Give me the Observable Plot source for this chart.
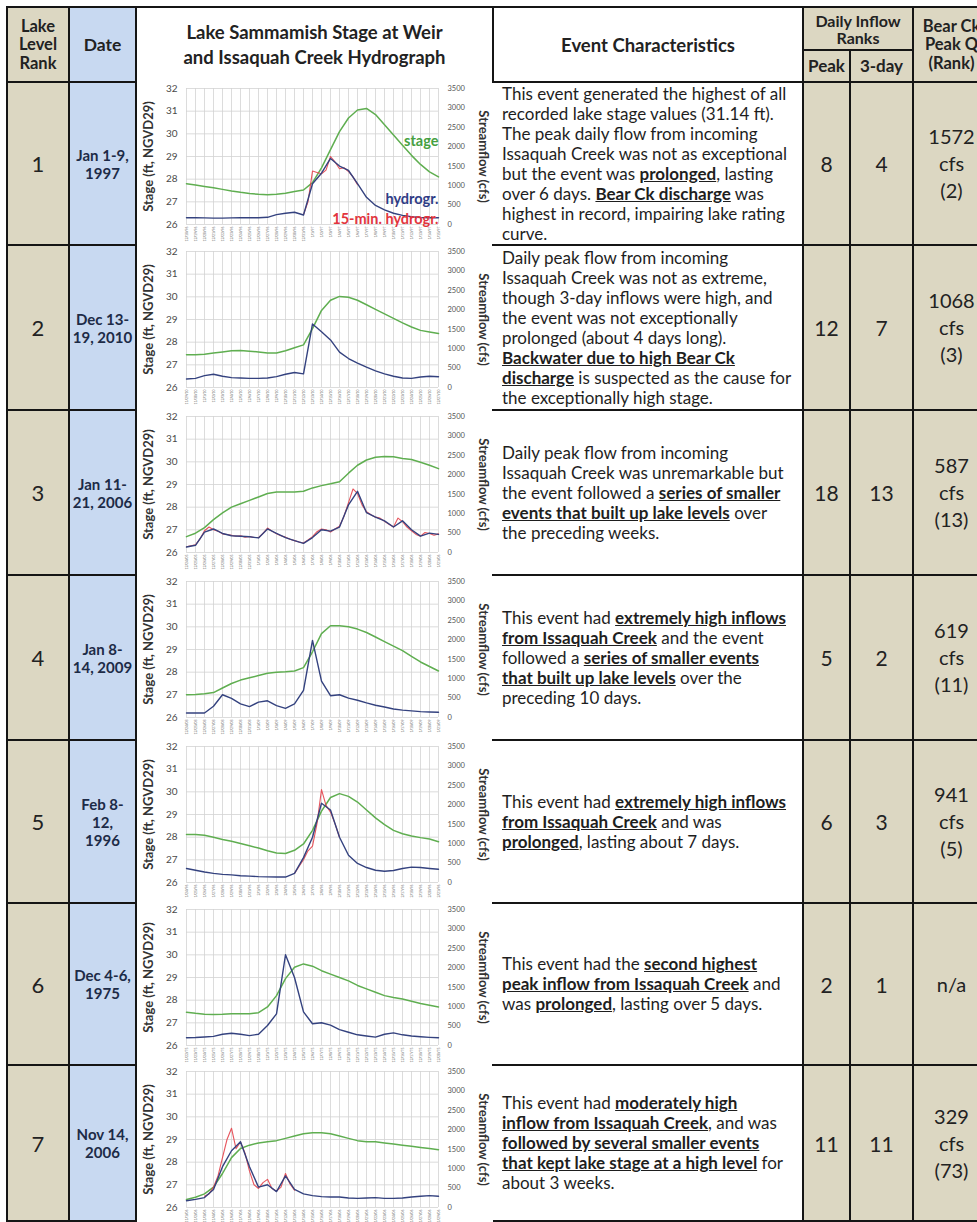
<!DOCTYPE html>
<html><head><meta charset="utf-8">
<script src="https://cdn.jsdelivr.net/npm/d3@7"></script>
<script src="https://cdn.jsdelivr.net/npm/@observablehq/plot@0.6"></script>
<style>
html,body{margin:0;padding:0;background:#fff;overflow:hidden;width:977px;height:1222px;}
body{font-family:Lato,"Open Sans",sans-serif;color:#1b1b1b;position:relative;}
.cell{position:absolute;box-sizing:border-box;display:flex;align-items:center;justify-content:center;text-align:center;white-space:nowrap;}
.ln{position:absolute;background:#151515;}
.ev{justify-content:flex-start;text-align:left;padding-left:9px;font-size:17px;line-height:20px;white-space:nowrap;color:#1e1e1e;}
.ev b{text-decoration:underline;}
svg{display:block;}
</style></head><body>
<script>
// ---------- data ----------
const rankLabels = ["1","2","3","4","5","6","7"];
const dateLabels = [["Jan 1-9,","1997"],["Dec 13-","19, 2010"],["Jan 11-","21, 2006"],["Jan 8-","14, 2009"],["Feb 8-","12,","1996"],["Dec 4-6,","1975"],["Nov 14,","2006"]];
const peakRanks = [8,12,18,5,6,2,11];
const threeDayRanks = [4,7,13,2,3,1,11];
const bearCkPeak = ["1572","1068","587","619","941","n/a","329"];
const bearCkRank = ["(2)","(3)","(13)","(11)","(5)","","(73)"];
const chartStart = ["1996-12-18","2010-11-29","2005-12-24","2008-12-24","1996-01-24","1975-11-22","2006-11-01"];

const stageTicks = [26,27,28,29,30,31,32];
const flowTicks = [0,500,1000,1500,2000,2500,3000,3500];

const stageR1 = [27.80,27.74,27.68,27.62,27.55,27.48,27.42,27.37,27.33,27.31,27.33,27.38,27.46,27.52,27.85,28.5,29.3,30.1,30.7,31.05,31.12,30.85,30.4,29.95,29.5,29.05,28.65,28.32,28.1];
const stageR2 = [27.45,27.45,27.47,27.52,27.57,27.62,27.63,27.6,27.57,27.52,27.52,27.62,27.75,27.88,28.6,29.4,29.85,30.02,29.98,29.85,29.65,29.45,29.25,29.05,28.85,28.67,28.52,28.45,28.38];
const stageR3 = [26.7,26.85,27.1,27.45,27.75,28.0,28.15,28.3,28.45,28.6,28.67,28.67,28.67,28.7,28.85,28.95,29.03,29.12,29.5,29.85,30.08,30.2,30.24,30.22,30.15,30.1,29.98,29.85,29.7];
const stageR4 = [27.0,27.02,27.05,27.1,27.3,27.5,27.65,27.75,27.85,27.95,28.0,28.02,28.05,28.2,28.9,29.7,30.05,30.05,30.0,29.9,29.75,29.55,29.35,29.15,28.95,28.7,28.45,28.25,28.05];
const stageR5 = [28.12,28.12,28.08,28.0,27.9,27.82,27.72,27.62,27.52,27.4,27.3,27.28,27.42,27.7,28.3,29.15,29.75,29.92,29.8,29.55,29.2,28.85,28.55,28.3,28.15,28.05,27.98,27.92,27.8];
const stageR6 = [27.47,27.42,27.38,27.37,27.38,27.4,27.4,27.4,27.45,27.7,28.2,28.95,29.45,29.6,29.5,29.3,29.15,29.0,28.85,28.65,28.5,28.35,28.2,28.12,28.05,27.95,27.85,27.78,27.7];
const stageR7 = [26.35,26.45,26.6,26.9,27.5,28.2,28.6,28.75,28.85,28.9,28.95,29.05,29.15,29.25,29.3,29.3,29.25,29.15,29.05,28.95,28.9,28.9,28.85,28.8,28.75,28.7,28.65,28.6,28.55];

const flowR1 = [175,175,170,165,165,170,175,175,175,185,255,290,315,245,1050,1320,1700,1505,1390,1050,700,490,375,290,235,200,180,175,175];
const flowR2 = [220,235,305,340,290,255,245,235,235,245,280,340,385,350,1635,1435,1225,910,745,630,525,430,350,290,245,235,270,290,275];
const flowR3 = [140,185,525,605,490,430,420,405,375,605,490,385,305,235,385,585,550,655,1225,1575,1025,910,815,655,815,585,420,500,465];
const flowR4 = [115,115,115,290,585,490,350,280,395,430,305,235,350,700,1985,935,560,585,500,445,375,315,270,220,190,170,150,140,135];
const flowR5 = [360,315,270,235,210,195,175,165,150,145,140,140,235,640,1165,2040,1865,1165,700,490,385,315,290,310,360,395,385,360,340];
const flowR6 = [200,205,220,235,290,315,290,255,290,515,815,2335,1750,865,560,585,525,410,340,275,245,215,290,325,275,245,225,210,200];
const flowR7 = [175,210,255,465,1050,1460,1690,1050,525,585,410,815,465,350,305,280,270,270,245,235,245,255,235,235,245,270,290,305,290];

// 15-minute hydrograph, sampled every half day from the start day given in flow15Start
const flow15R1 = [255,585,1375,1340,1305,1400,1750,1610,1435,1460,1365,1225,1025];
const flow15R3 = [150,175,200,350,560,655,585,550,480,465,445,420,430,395,410,385,385,490,630,550,480,430,395,340,305,270,245,325,410,535,605,585,525,605,675,935,1285,1635,1515,1225,1050,970,910,885,805,725,655,885,795,655,560,465,420,515,490,445,480];
const flow15R5 = [235,410,585,815,935,1515,2390,1985,1810,1515,1165];
const flow15R7 = [290,350,525,815,1285,1750,2040,1515,1690,1400,935,585,490,640,725,490,420,525,875,605,445];
const flow15Start = [13,null,0,null,12,null,2];

const seriesLabels = ["stage","hydrogr.","15-min. hydrogr."];
const seriesLabelLevels = [29.67,27.1,26.22];

const eventLines = [
 ["This event generated the highest of all","recorded lake stage values (31.14 ft).","The peak daily flow from incoming","Issaquah Creek was not as exceptional","but the event was **prolonged**, lasting","over 6 days. **Bear Ck discharge** was","highest in record, impairing lake rating","curve."],
 ["Daily peak flow from incoming","Issaquah Creek was not as extreme,","though 3-day inflows were high, and","the event was not exceptionally","prolonged (about 4 days long).","**Backwater due to high Bear Ck**","**discharge** is suspected as the cause for","the exceptionally high stage."],
 ["Daily peak flow from incoming","Issaquah Creek was unremarkable but","the event followed a **series of smaller**","**events that built up lake levels** over","the preceding weeks."],
 ["This event had **extremely high inflows**","**from Issaquah Creek** and the event","followed a **series of smaller events**","**that built up lake levels** over the","preceding 10 days."],
 ["This event had **extremely high inflows**","**from Issaquah Creek** and was","**prolonged**, lasting about 7 days."],
 ["This event had the **second highest**","**peak inflow from Issaquah Creek** and","was **prolonged**, lasting over 5 days."],
 ["This event had **moderately high**","**inflow from Issaquah Creek**, and was","**followed by several smaller events**","**that kept lake stage at a high level** for","about 3 weeks."]
];

const stageSeries = [stageR1,stageR2,stageR3,stageR4,stageR5,stageR6,stageR7];
const flowSeries = [flowR1,flowR2,flowR3,flowR4,flowR5,flowR6,flowR7];
const flow15Series = [flow15R1,null,flow15R3,null,flow15R5,null,flow15R7];

// ---------- layout ----------
const TAN = "#dcd7c2", BLUE = "#c8d9f1";
const GREEN = "#5fae50", NAVY = "#34427f", RED = "#e4434b";
const colX = [7,69,136,493,803,850,913,990];
const headTop = 7, headMid = 50, headBot = 82;
const rowH = [163,165,165,165,163,162,156];
const rowTop = []; { let y = headBot; for (const h of rowH) { rowTop.push(y); y += h; } }
const bottom = rowTop[6] + rowH[6];

function cell(x0, x1, y0, y1, bg, html, style = "", cls = "") {
  const d = document.createElement("div");
  d.className = "cell " + cls;
  d.style.cssText = `left:${x0}px;top:${y0}px;width:${x1-x0}px;height:${y1-y0}px;background:${bg};${style}`;
  d.innerHTML = html;
  document.body.appendChild(d);
  return d;
}
function hline(x0, x1, y) { const d = document.createElement("div"); d.className="ln"; d.style.cssText=`left:${x0-0.75}px;top:${y-0.75}px;width:${x1-x0+1.5}px;height:1.5px`; document.body.appendChild(d); }
function vline(x, y0, y1) { const d = document.createElement("div"); d.className="ln"; d.style.cssText=`left:${x-0.75}px;top:${y0-0.75}px;width:1.5px;height:${y1-y0+1.5}px`; document.body.appendChild(d); }

const hb = "font-weight:700;font-size:18.5px;line-height:22px;color:#222;";
cell(colX[0], colX[1], headTop, headBot, TAN, "Lake<br>Level<br>Rank", hb + "font-size:16.5px;line-height:18.5px;");
cell(colX[1], colX[2], headTop, headBot, BLUE, "Date", hb + "font-size:17.5px;");
cell(colX[2], colX[3], headTop, headBot, "#fff", "Lake Sammamish Stage at Weir<br>and Issaquah Creek Hydrograph", hb + "line-height:25px;");
cell(colX[3], colX[4], headTop, headBot, "#fff", "Event Characteristics", hb);
cell(colX[4], colX[6], headTop, headMid, TAN, "Daily Inflow<br>Ranks", hb + "font-size:16px;line-height:17px;");
cell(colX[4], colX[5], headMid, headBot, TAN, "Peak", hb + "font-size:17px;");
cell(colX[5], colX[6], headMid, headBot, TAN, "3-day", hb + "font-size:17px;");
cell(colX[6], colX[7], headTop, headBot, TAN, "Bear Ck<br>Peak Q<br>(Rank)", hb + "font-size:16.5px;line-height:18.5px;");

const fmtTick = d3.utcFormat("%-m/%-d/%y");

function makeChart(k) {
  const start = new Date(chartStart[k]);
  const days = stageSeries[k].map((_, i) => d3.utcDay.offset(start, i));
  const toFt = c => 26 + c * 6 / 3500;
  const stage = stageSeries[k].map((v, i) => ({date: days[i], ft: v}));
  const flow = flowSeries[k].map((v, i) => ({date: days[i], ft: toFt(v)}));
  const marks = [
    Plot.gridX(days, {stroke: "#d3d3d3", strokeOpacity: 1, strokeWidth: 0.8}),
    Plot.gridY(stageTicks, {stroke: "#d3d3d3", strokeOpacity: 1, strokeWidth: 0.8}),
    Plot.axisY(stageTicks, {anchor: "left", tickSize: 0, tickPadding: 9, fontSize: 10, fill: "#4a4a4a", label: null}),
    Plot.axisY(flowTicks.map(toFt), {anchor: "right", tickSize: 0, tickPadding: 9, fontSize: 7.5, fill: "#555", label: null, tickFormat: f => String(Math.round((f - 26) * 3500 / 6))}),
    Plot.axisX(days, {anchor: "bottom", tickSize: 0, tickPadding: 2, tickRotate: -90, fontSize: 3.4, fill: "#666", label: null, tickFormat: fmtTick}),
    Plot.line(stage, {x: "date", y: "ft", stroke: GREEN, strokeWidth: 1.5})
  ];
  if (flow15Series[k]) {
    const f15 = flow15Series[k].map((v, i) => ({date: d3.utcHour.offset(start, flow15Start[k] * 24 + i * 12), ft: toFt(v)}));
    marks.push(Plot.line(f15, {x: "date", y: "ft", stroke: RED, strokeWidth: 1.1, strokeOpacity: 0.9}));
  }
  marks.push(Plot.line(flow, {x: "date", y: "ft", stroke: NAVY, strokeWidth: 1.4}));
  if (k === 0) {
    const lab = seriesLabels.map((t, i) => ({t, ft: seriesLabelLevels[i], c: ["#45a040", "#2f3d86", "#e2353d"][i]}));
    marks.push(Plot.text(lab, {x: () => days[days.length - 1], y: "ft", text: "t", fill: "c", textAnchor: "end", fontWeight: "bold", fontSize: 14.5}));
  }
  marks.push(Plot.text(["Stage (ft, NGVD29)"], {frameAnchor: "left", dx: -38, rotate: -90, textAnchor: "middle", fontWeight: "bold", fontSize: 13, fill: "#333"}));
  marks.push(Plot.text(["Streamflow (cfs)"], {frameAnchor: "right", dx: 45, rotate: 90, textAnchor: "middle", fontWeight: "bold", fontSize: 13, fill: "#333"}));
  return Plot.plot({
    width: colX[3] - colX[2] - 1, height: 160,
    marginLeft: 49, marginRight: 55, marginTop: 5, marginBottom: 19,
    style: {background: "#fff", fontFamily: "Lato, sans-serif", overflow: "visible"},
    x: {type: "utc", domain: [days[0], days[days.length - 1]]},
    y: {domain: [26, 32]},
    marks
  });
}

for (let k = 0; k < 7; k++) {
  const y0 = rowTop[k], y1 = y0 + rowH[k];
  cell(colX[0], colX[1], y0, y1, TAN, rankLabels[k], "font-size:22px;color:#222;");
  cell(colX[1], colX[2], y0, y1, BLUE, dateLabels[k].join("<br>"), "font-weight:700;font-size:15px;line-height:18px;color:#1d2b47;");
  const html = eventLines[k].map(l => l.replace(/\*\*(.+?)\*\*/g, "<b>$1</b>")).join("<br>");
  cell(colX[3], colX[4], y0, y1, "#fff", `<div>${html}</div>`, "", "ev");
  cell(colX[4], colX[5], y0, y1, TAN, String(peakRanks[k]), "font-size:21px;color:#222;");
  cell(colX[5], colX[6], y0, y1, TAN, String(threeDayRanks[k]), "font-size:21px;color:#222;");
  const bear = bearCkRank[k] ? `${bearCkPeak[k]}<br>cfs<br>${bearCkRank[k]}` : bearCkPeak[k];
  cell(colX[6], colX[7], y0, y1, TAN, bear, "font-size:20px;line-height:27px;color:#222;");
}

// grid lines of the table
vline(colX[0], headTop, bottom); vline(colX[1], headTop, bottom); vline(colX[2], headTop, bottom);
vline(colX[3], headTop, headBot); vline(colX[4], headTop, bottom); vline(colX[5], headMid, bottom);
vline(colX[6], headTop, bottom); vline(colX[7], headTop, bottom);
hline(colX[0], colX[7], headTop); hline(colX[4], colX[6], headMid);
for (let k = 0; k <= 7; k++) {
  const y = k < 7 ? rowTop[k] : bottom;
  hline(colX[0], colX[2], y); hline(colX[3], colX[7], y);
}

// charts on top (they cover the cell borders as in the original)
for (let k = 0; k < 7; k++) {
  const svg = makeChart(k);
  const w = document.createElement("div");
  w.style.cssText = `position:absolute;left:${colX[2] + 1}px;top:${rowTop[k] + 1}px;`;
  w.appendChild(svg);
  document.body.appendChild(w);
}
</script>
</body></html>
